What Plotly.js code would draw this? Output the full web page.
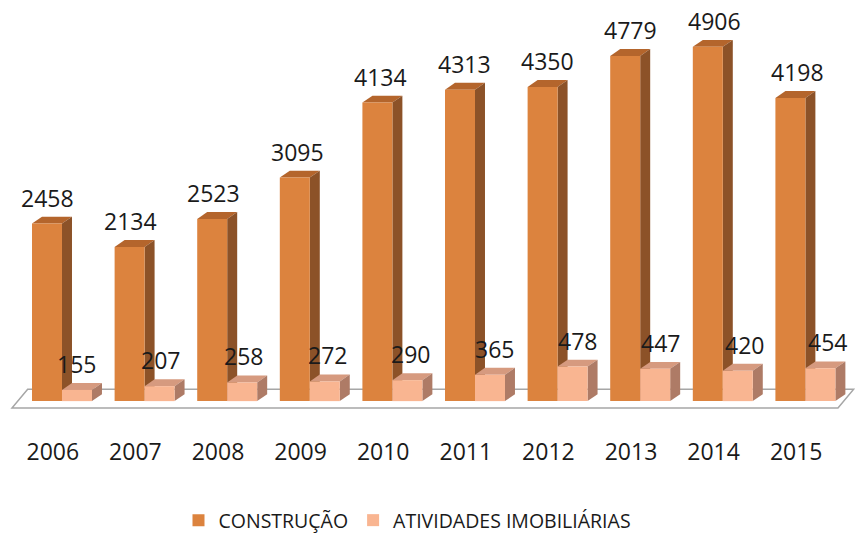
<!DOCTYPE html>
<html>
<head>
<meta charset="utf-8">
<script src="https://cdn.plot.ly/plotly-3.0.1.min.js"></script>
<style>html,body{margin:0;padding:0;background:#fff;}#chart{width:855px;height:540px;}</style>
</head>
<body>
<div id="chart"></div>
<script>
// ---- data ----
const years = ['2006','2007','2008','2009','2010','2011','2012','2013','2014','2015'];
const construcao = [2458,2134,2523,3095,4134,4313,4350,4779,4906,4198];
const imobiliarias = [155,207,258,272,290,365,478,447,420,454];
const seriesNames = ['CONSTRUÇÃO','ATIVIDADES IMOBILIÁRIAS'];

// ---- styles ----
const FONT = 'Open Sans, Liberation Sans, sans-serif';
const C1 = {front:'#DC833E', top:'#B4652C', side:'#8C5228'};
const C2 = {front:'#F9B591', top:'#D69A7F', side:'#AE7B66'};
const W = 0.363;         // bar width (category units)
const DX = 0.121;        // depth offset x (category units)
const DY = 96;           // depth offset y (value units)

const idx = years.map((_, i) => i);
const tickPos = idx.map(i => i + 0.07);

const traces = [
  {type:'bar', name:seriesNames[0], x:idx, y:construcao, width:W, offset:-W/2,
   marker:{color:C1.front, line:{width:0}}, hoverinfo:'none'},
  {type:'bar', name:seriesNames[1], x:idx, y:imobiliarias, width:W, offset:W/2,
   marker:{color:C2.front, line:{width:0}}, hoverinfo:'none'}
];

function poly(pts){ return 'M' + pts.map(p => p[0] + ',' + p[1]).join(' L') + ' Z'; }

const shapes = [];
// floor plate
const fy0 = -96, fy1 = 165, fdx = 0.19, fxl = -0.424, fxr = 9.576;
shapes.push({type:'path', xref:'x', yref:'y', layer:'below',
  path: poly([[fxl, fy0],[fxr, fy0],[fxr+fdx, fy1],[fxl+fdx, fy1]]),
  fillcolor:'#ffffff', line:{color:'#A6A6A6', width:1.5}});

function addFaces(vals, left, col){
  const right = left + W;
  vals.forEach((v, i) => {
    const l = i + left, r = i + right;
    shapes.push({type:'path', xref:'x', yref:'y', layer:'below',
      path: poly([[l, v],[r, v],[r+DX, v+DY],[l+DX, v+DY]]),
      fillcolor: col.top, line:{width:0}});
    shapes.push({type:'path', xref:'x', yref:'y', layer:'below',
      path: poly([[r, 0],[r+DX, DY],[r+DX, v+DY],[r, v]]),
      fillcolor: col.side, line:{width:0}});
  });
}
addFaces(construcao, -W/2, C1);
addFaces(imobiliarias, W/2, C2);

const annotations = [];
construcao.forEach((v, i) => annotations.push({x:i + 0.01*i, y:v, xref:'x', yref:'y', text:String(v),
  showarrow:false, yanchor:'middle', yshift:26, font:{family:FONT, size:23, color:'#1a1a1a'}}));
imobiliarias.forEach((v, i) => annotations.push({x:i + W + 0.01*i, y:v, xref:'x', yref:'y', text:String(v),
  showarrow:false, yanchor:'middle', yshift:26, font:{family:FONT, size:23, color:'#1a1a1a'}}));

const layout = {
  width:855, height:540,
  margin:{l:0, r:0, t:10, b:115},
  paper_bgcolor:'#ffffff', plot_bgcolor:'#ffffff',
  barmode:'overlay',
  showlegend:true,
  legend:{orientation:'h', x:0.4766, xanchor:'center', y:-0.236, yanchor:'middle',
          font:{family:FONT, size:19.5, color:'#1a1a1a'}},
  xaxis:{range:[-0.569, 9.782], tickvals:tickPos, ticktext:years, showgrid:false, zeroline:false,
         showline:false, ticks:'', ticklabelstandoff:13,
         tickfont:{family:FONT, size:23, color:'#1a1a1a'}},
  yaxis:{range:[-303, 5416], visible:false, showgrid:false, zeroline:false},
  shapes: shapes,
  annotations: annotations
};

Plotly.newPlot('chart', traces, layout, {staticPlot:true, displayModeBar:false});
</script>
</body>
</html>
